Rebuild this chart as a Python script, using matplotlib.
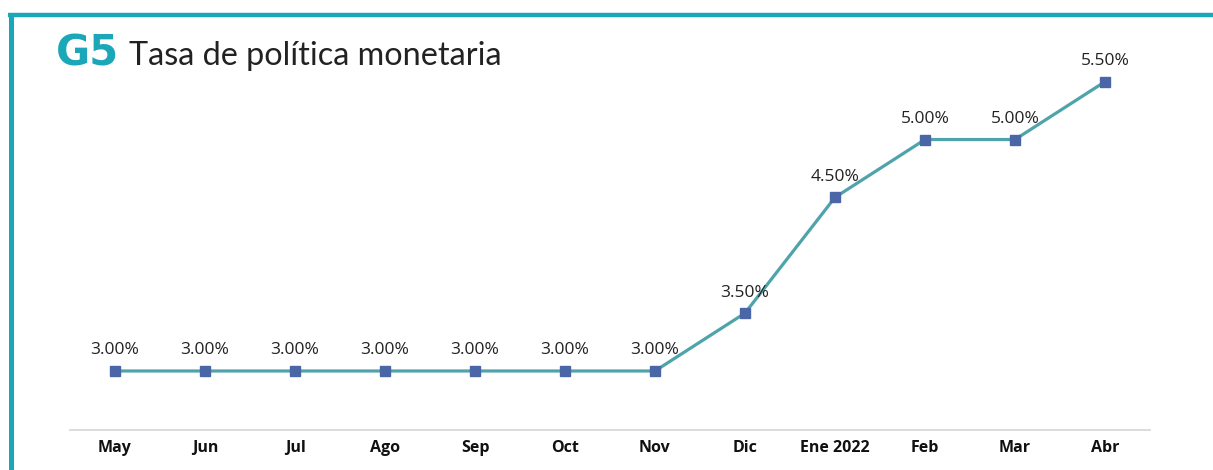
import matplotlib.pyplot as plt
from matplotlib.lines import Line2D

# datos
meses = ["May", "Jun", "Jul", "Ago", "Sep", "Oct", "Nov", "Dic", "Ene 2022", "Feb", "Mar", "Abr"]
tasa = [3.00, 3.00, 3.00, 3.00, 3.00, 3.00, 3.00, 3.50, 4.50, 5.00, 5.00, 5.50]

teal = "#1aa7b8"
fig = plt.figure(figsize=(12.13, 4.70), dpi=100)

# marco (borde superior e izquierdo)
fig.add_artist(Line2D([8/1213, 1], [1 - 14.5/470, 1 - 14.5/470], color=teal, lw=3.2,
                      transform=fig.transFigure, solid_capstyle="butt"))
fig.add_artist(Line2D([10.5/1213, 10.5/1213], [0, 1 - 12.5/470], color=teal, lw=3.6,
                      transform=fig.transFigure, solid_capstyle="butt"))

# titulo
fig.text(56/1213, 1 - 53/470, "G5", color=teal, fontsize=30, fontweight="heavy",
         family="DejaVu Sans", va="center", ha="left")
fig.text(129/1213, 1 - 56/470, "Tasa de política monetaria", color="#222222", fontsize=23.3,
         family="Lato", va="center", ha="left")

ax = fig.add_axes([70/1213, 40/470, 1080/1213, 390/470])
x = list(range(len(meses)))
ax.plot(x, tasa, color="#4fa3aa", lw=2.3, marker="s", markersize=7,
        markerfacecolor="#4a66a6", markeredgecolor="#4a66a6", zorder=3)

for xi, v in zip(x, tasa):
    ax.annotate(f"{v:.2f}%", (xi, v), xytext=(0, 9), textcoords="offset points",
                ha="center", va="bottom", fontsize=12.5, color="#222222", family="Open Sans")

ax.set_xlim(-0.5, 11.5)
ax.set_ylim(2.49, 5.86)
ax.set_xticks(x)
ax.set_xticklabels(meses, fontsize=11.5, fontweight="bold", family="Open Sans", color="#111111")
ax.tick_params(axis="x", length=0, pad=7)
ax.set_yticks([])
for s in ["top", "right", "left"]:
    ax.spines[s].set_visible(False)
ax.spines["bottom"].set_color("#d9d9d9")
ax.spines["bottom"].set_linewidth(1.3)

fig.savefig("out.png", dpi=100)
